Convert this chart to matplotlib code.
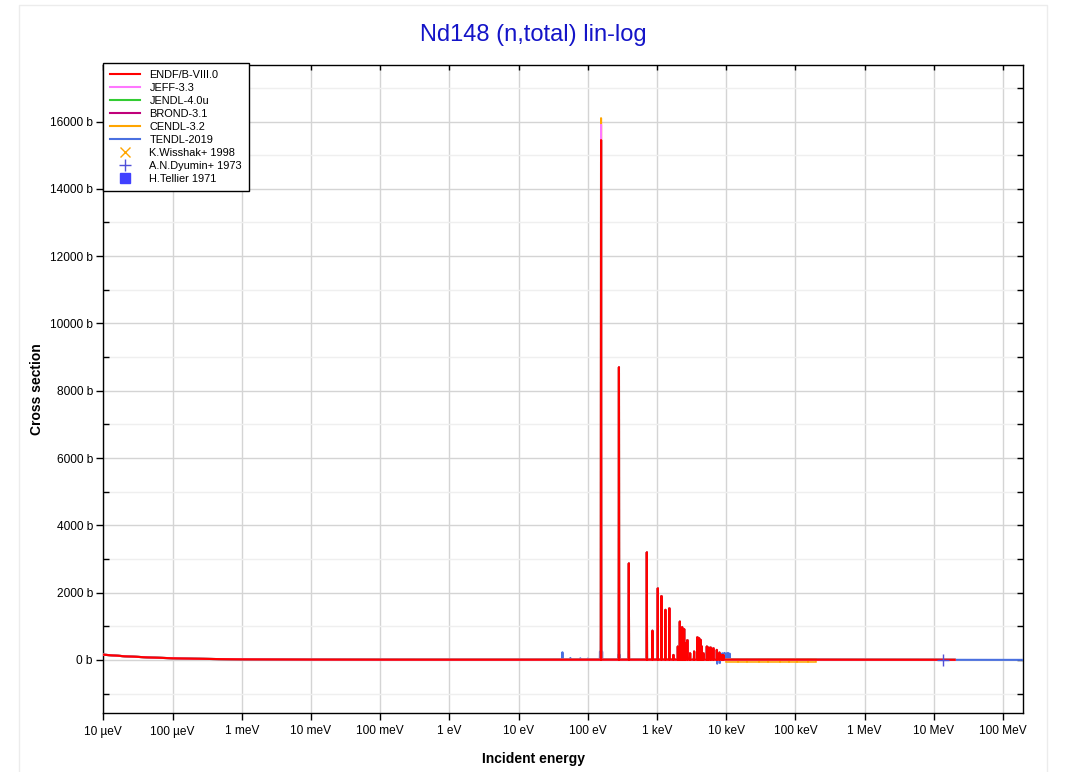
import numpy as np
import matplotlib
matplotlib.use('Agg')
import matplotlib.pyplot as plt
import matplotlib.lines as mlines
from matplotlib.ticker import FixedLocator, NullLocator, FixedFormatter
from matplotlib.patches import Rectangle

plt.rcParams['font.family'] = ['Liberation Sans', 'DejaVu Sans']

# ---------------- data ----------------
tick_energies = [1e-5, 1e-4, 1e-3, 1e-2, 1e-1, 1e0, 1e1, 1e2, 1e3, 1e4, 1e5, 1e6, 1e7, 1e8]
tick_labels = ['10 µeV', '100 µeV', '1 meV', '10 meV', '100 meV', '1 eV', '10 eV',
               '100 eV', '1 keV', '10 keV', '100 keV', '1 MeV', '10 MeV', '100 MeV']
y_ticks = [0, 2000, 4000, 6000, 8000, 10000, 12000, 14000, 16000]
y_tick_labels = ['0 b', '2000 b', '4000 b', '6000 b', '8000 b', '10000 b',
                 '12000 b', '14000 b', '16000 b']
y_minor_ticks = [-1000, 1000, 3000, 5000, 7000, 9000, 11000, 13000, 15000, 17000]

# smooth background of evaluated libraries (energy in eV, xs in b)
bg_E = [1e-5, 2e-5, 5e-5, 1e-4, 2e-4, 5e-4, 1e-3, 1e-2, 1e-1, 1.0, 10.0, 100.0,
        1e3, 1e4, 1e5, 1e6, 1e7, 2e7]
bg_xs = [157, 112, 72, 52, 38, 26, 20, 12, 9, 8, 8, 9, 10, 10, 9, 7, 6, 5]

# resolved resonances (ENDF/B-VIII.0 and similar libraries)
res_E = [155.4, 282, 392, 713, 859, 1026, 1159, 1322, 1510, 1726, 2000, 2138, 2307,
         2466, 2548, 2749, 3006, 3436, 3837, 4058, 4266, 4437, 4688, 5248, 5573,
         5957, 6531, 7316, 7979, 8630, 9120]
res_endf = [15450, 8700, 2870, 3200, 870, 2130, 1900, 1490, 1535, 150, 400, 1140, 980,
            920, 500, 590, 200, 250, 675, 650, 600, 400, 200, 400, 370,
            370, 350, 300, 220, 150, 150]
peak155_jeff = 15900
peak155_jendl = 15450
peak155_brond = 15450
peak155_cendl = 16100

# TENDL-2019
tendl_bg_E = [1e-5, 2e-5, 5e-5, 1e-4, 2e-4, 5e-4, 1e-3, 1e-2, 1e-1, 1.0, 10.0, 100.0,
              1e3, 1e4, 1e5, 1e6, 1e7, 2e7, 1e8, 2e8]
tendl_bg_xs = [157, 112, 72, 52, 38, 26, 20, 12, 9, 8, 8, 9, 10, 10, 9, 7, 6, 5, 4, 4]
tendl_res_E = [43, 56, 78, 100, 150, 155.4, 161, 275, 282, 290, 392, 713, 859, 1026,
               1159, 1322, 1510, 2138, 2307, 2466, 3837, 4058, 7400, 8100, 8800, 9400,
               10000, 10600, 11200]
tendl_res_xs = [230, 60, 50, 40, 250, 900, 250, 150, 520, 150, 260, 850, 350, 850,
                600, 650, 700, 400, 350, 300, 250, 200, -110, -90, 200, 210,
                200, 210, 190]

# K.Wisshak+ 1998 (bins in eV, band in b)
wisshak_lo_E = [1.0e4, 1.5e4, 2.0e4, 3.0e4, 4.0e4, 6.0e4, 8.0e4, 1.05e5, 1.5e5]
wisshak_hi_E = [1.5e4, 2.0e4, 3.0e4, 4.0e4, 6.0e4, 8.0e4, 1.05e5, 1.5e5, 2.0e5]
wisshak_lo_xs = [-60, -60, -60, -60, -60, -60, -60, -60, -60]
wisshak_hi_xs = [40, 40, 40, 40, 40, 40, 40, 40, 40]

# A.N.Dyumin+ 1973
dyumin_E = [1.35e7]
dyumin_xs = [5.8]

# H.Tellier 1971 (no point visible in the plotted range)
tellier_E = []
tellier_xs = []

BASE = 9.0
REL_W = 0.006


def spiky(bE, bX, rE, rX):
    E = list(bE)
    X = list(bX)
    for e, x in zip(rE, rX):
        E += [e * (1 - REL_W), e, e * (1 + REL_W)]
        X += [BASE, x, BASE]
    order = np.argsort(E)
    return np.asarray(E)[order], np.asarray(X)[order]


def with_peak(p):
    return [p] + res_endf[1:]


# ---------------- figure ----------------
W, H = 1067, 772
fig = plt.figure(figsize=(W / 100, H / 100), dpi=100)
fig.patches.append(Rectangle((19 / W, -0.01), (1047 - 19) / W, 1 - 5 / H + 0.01,
                             transform=fig.transFigure, fill=False,
                             edgecolor='#ececec', lw=1.0))
ax = fig.add_axes([103.3 / W, 1 - 713 / H, (1023 - 103.3) / W, (713 - 65) / H])

c_endf = '#ff0000'
c_jeff = '#ff77ff'
c_jendl = '#33cc33'
c_brond = '#c0007a'
c_cendl = '#ffa500'
c_tendl = '#4a70e0'

lw = 1.5
E, X = spiky(tendl_bg_E, tendl_bg_xs, tendl_res_E, tendl_res_xs)
l_tendl, = ax.plot(E, X, color=c_tendl, lw=lw, label='TENDL-2019', zorder=3)

# Wisshak band
ax.bar(wisshak_lo_E, np.subtract(wisshak_hi_xs, wisshak_lo_xs),
       width=np.subtract(wisshak_hi_E, wisshak_lo_E), bottom=wisshak_lo_xs,
       align='edge', color=(1.0, 0.65, 0.0, 0.22), edgecolor='#ffa500',
       linewidth=1.1, zorder=3.5)

E, X = spiky(bg_E, bg_xs, res_E, with_peak(peak155_cendl))
l_cendl, = ax.plot(E, X, color=c_cendl, lw=lw, label='CENDL-3.2', zorder=4)
E, X = spiky(bg_E, bg_xs, res_E, with_peak(peak155_brond))
l_brond, = ax.plot(E, X, color=c_brond, lw=lw, label='BROND-3.1', zorder=4.1)
E, X = spiky(bg_E, bg_xs, res_E, with_peak(peak155_jendl))
l_jendl, = ax.plot(E, X, color=c_jendl, lw=lw, label='JENDL-4.0u', zorder=4.2)
E, X = spiky(bg_E, bg_xs, res_E, with_peak(peak155_jeff))
l_jeff, = ax.plot(E, X, color=c_jeff, lw=lw, label='JEFF-3.3', zorder=4.3)
E, X = spiky(bg_E, bg_xs, res_E, res_endf)
l_endf, = ax.plot(E, X, color=c_endf, lw=lw, label='ENDF/B-VIII.0', zorder=5)

l_wis, = ax.plot([], [], ls='none', marker='x', color='#ffa500', ms=7, mew=1.0,
                 label='K.Wisshak+ 1998')
l_dyu, = ax.plot(dyumin_E, dyumin_xs, ls='none', marker='+', color='#5050d8', ms=8,
                 mew=1.0, label='A.N.Dyumin+ 1973', zorder=6)
l_tel, = ax.plot(tellier_E, tellier_xs, ls='none', marker='s', color='#4040ff', ms=7,
                 label='H.Tellier 1971')

ax.set_xscale('log')
ax.set_xlim(1e-5, 1.94e8)
ax.set_ylim(-1575, 17680)

ax.xaxis.set_major_locator(FixedLocator(tick_energies))
ax.xaxis.set_major_formatter(FixedFormatter(tick_labels))
ax.xaxis.set_minor_locator(NullLocator())
ax.yaxis.set_major_locator(FixedLocator(y_ticks))
ax.yaxis.set_major_formatter(FixedFormatter(y_tick_labels))
ax.yaxis.set_minor_locator(FixedLocator(y_minor_ticks))

ax.grid(True, which='major', color='#d4d4d4', lw=1.0, zorder=0)
ax.grid(True, which='minor', axis='y', color='#efefef', lw=1.0, zorder=0)
ax.set_axisbelow(True)

for s in ax.spines.values():
    s.set_linewidth(1.0)
    s.set_color('black')

ax.tick_params(axis='both', which='major', direction='out', length=5, width=1.0,
               labelsize=8.6, colors='black', top=True, right=True)
ax.tick_params(axis='x', which='major', pad=4)
ax.tick_params(axis='y', which='major', pad=2.5)
ax.tick_params(axis='y', which='minor', direction='in', length=4, width=1.0,
               right=True)

# inward ticks on the top and right sides
for t in ax.xaxis.get_major_ticks():
    t.tick2line.set_marker(mlines.TICKDOWN)
    t.tick2line.set_markersize(3.5)
for t in ax.yaxis.get_major_ticks():
    t.tick2line.set_marker(mlines.TICKLEFT)
    t.tick2line.set_markersize(4)

leg = ax.legend(handles=[l_endf, l_jeff, l_jendl, l_brond, l_cendl, l_tendl,
                         l_wis, l_dyu, l_tel],
                loc='upper left', bbox_to_anchor=(0, 1.003), borderaxespad=0,
                fontsize=7.9, frameon=True, fancybox=False, framealpha=1,
                edgecolor='black', handlelength=2.7, handletextpad=0.9,
                labelspacing=0.28, borderpad=0.6)
leg.get_frame().set_linewidth(1.0)
leg.set_zorder(10)

fig.text(0.5, 1 - 35 / H, 'Nd148 (n,total) lin-log', ha='center', va='center',
         fontsize=17, color='#1414c8')
fig.text(533 / W, 1 - 759 / H, 'Incident energy', ha='center', va='center',
         fontsize=10, fontweight='bold')
fig.text(37 / W, 1 - 389 / H, 'Cross section', ha='center', va='center',
         fontsize=10, fontweight='bold', rotation=90)

fig.savefig('out.png', dpi=100)
